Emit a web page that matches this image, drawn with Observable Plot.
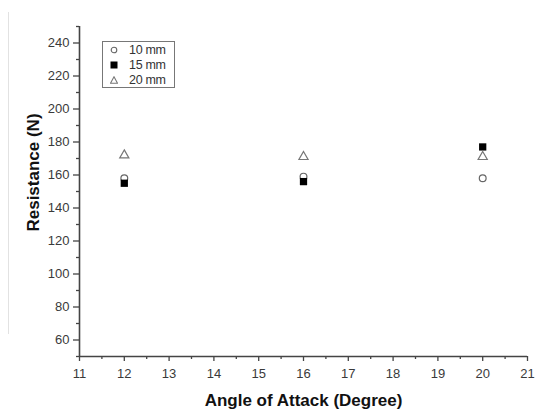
<!DOCTYPE html>
<html>
<head>
<meta charset="utf-8">
<script src="https://cdn.jsdelivr.net/npm/d3@7"></script>
<script src="https://cdn.jsdelivr.net/npm/@observablehq/plot@0.6"></script>
<style>
  html, body { margin: 0; padding: 0; background: #fff; }
  #wrap { position: relative; width: 535px; height: 410px; font-family: "Liberation Sans", Arial, sans-serif; }
  #edge { position: absolute; left: 8px; top: 12px; height: 322px; border-left: 1px solid #e2e2e2; }
  #legend { position: absolute; left: 102px; top: 41px; width: 71px; height: 45px; border: 1px solid #777; overflow: hidden; background: #fff; }
  .row { position: absolute; left: 0; height: 15px; display: flex; align-items: center; font-size: 12.5px; color: #333; white-space: nowrap; letter-spacing: -0.3px; }
  .row svg { margin-left: 7px; margin-right: 11px; }
</style>
</head>
<body>
<div id="wrap"><div id="edge"></div></div>
<script>
const angles = [12, 16, 20];
const seriesNames = ["10 mm", "15 mm", "20 mm"];
const res10 = [158, 159, 158];
const res15 = [155, 156, 177];
const res20 = [172, 171, 171];
const yMajorTicks = [60, 80, 100, 120, 140, 160, 180, 200, 220, 240];
const yMinorTicks = [50, 70, 90, 110, 130, 150, 170, 190, 210, 230, 250];
const xMajorTicks = [11, 12, 13, 14, 15, 16, 17, 18, 19, 20, 21];
const xMinorTicks = [11.5, 12.5, 13.5, 14.5, 15.5, 16.5, 17.5, 18.5, 19.5, 20.5];
const xTitle = "Angle of Attack (Degree)";
const yTitle = "Resistance (N)";

const d10 = angles.map((a, i) => ({x: a, y: res10[i]}));
const d15 = angles.map((a, i) => ({x: a, y: res15[i]}));
const d20 = angles.map((a, i) => ({x: a, y: res20[i]}));

const axisColor = "#444";
const chart = Plot.plot({
  width: 535,
  height: 410,
  marginLeft: 79,
  marginRight: 8,
  marginTop: 26,
  marginBottom: 54,
  style: {fontFamily: "Liberation Sans, Arial, sans-serif", background: "transparent", overflow: "visible"},
  x: {domain: [11, 21]},
  y: {domain: [50, 250]},
  marks: [
    Plot.axisY({ticks: yMinorTicks, tickSize: 3, tickFormat: () => "", stroke: axisColor, strokeWidth: 1.3, label: null}),
    Plot.axisY({ticks: yMajorTicks, tickSize: 6, tickPadding: 4, tickFormat: d => d, stroke: axisColor, strokeWidth: 1.3, fill: "#3a3a3a", fontSize: 13, label: null}),
    Plot.axisX({ticks: xMinorTicks, tickSize: 3, tickFormat: () => "", stroke: axisColor, strokeWidth: 1.3, label: null}),
    Plot.axisX({ticks: xMajorTicks, tickSize: 5, tickPadding: 7, tickFormat: d => d, stroke: axisColor, strokeWidth: 1.3, fill: "#3a3a3a", fontSize: 13, label: null}),
    Plot.ruleX([11], {stroke: axisColor, strokeWidth: 1.6}),
    Plot.ruleY([50], {stroke: axisColor, strokeWidth: 1.6}),
    Plot.dot(d10, {x: "x", y: "y", symbol: "circle", r: 3.4, stroke: "#666", strokeWidth: 1.2, fill: "white"}),
    Plot.dot(d15, {x: "x", y: "y", symbol: "square", r: 4.1, fill: "#000", stroke: "none"}),
    Plot.dot(d20, {x: "x", y: "y", symbol: "triangle", r: 3.4, stroke: "#777", strokeWidth: 1.2, fill: "white"}),
    Plot.text([xTitle], {frameAnchor: "bottom", textAnchor: "middle", lineAnchor: "middle", dy: 44, fontSize: 17, fontWeight: "bold", fill: "#111"}),
    Plot.text([yTitle], {frameAnchor: "left", textAnchor: "middle", lineAnchor: "middle", dx: -46, dy: -19, rotate: -90, fontSize: 17, fontWeight: "bold", fill: "#111"})
  ]
});
const wrap = document.getElementById("wrap");
wrap.appendChild(chart);
chart.style.position = "absolute";
chart.style.left = "0";
chart.style.top = "0";

// legend
const legend = document.createElement("div");
legend.id = "legend";
const sym = [
  '<svg width="8" height="8"><circle cx="4" cy="4" r="2.8" fill="white" stroke="#666" stroke-width="1.1"/></svg>',
  '<svg width="8" height="8"><rect x="0.5" y="0.5" width="7" height="7" fill="#000"/></svg>',
  '<svg width="8" height="8"><path d="M4,0.8 L7.5,7.2 L0.5,7.2 Z" fill="white" stroke="#777" stroke-width="1.1"/></svg>'
];
seriesNames.forEach((name, i) => {
  const row = document.createElement("div");
  row.className = "row";
  row.style.top = (i * 15 + 0) + "px";
  row.innerHTML = sym[i] + "<span>" + name + "</span>";
  legend.appendChild(row);
});
wrap.appendChild(legend);
</script>
</body>
</html>
